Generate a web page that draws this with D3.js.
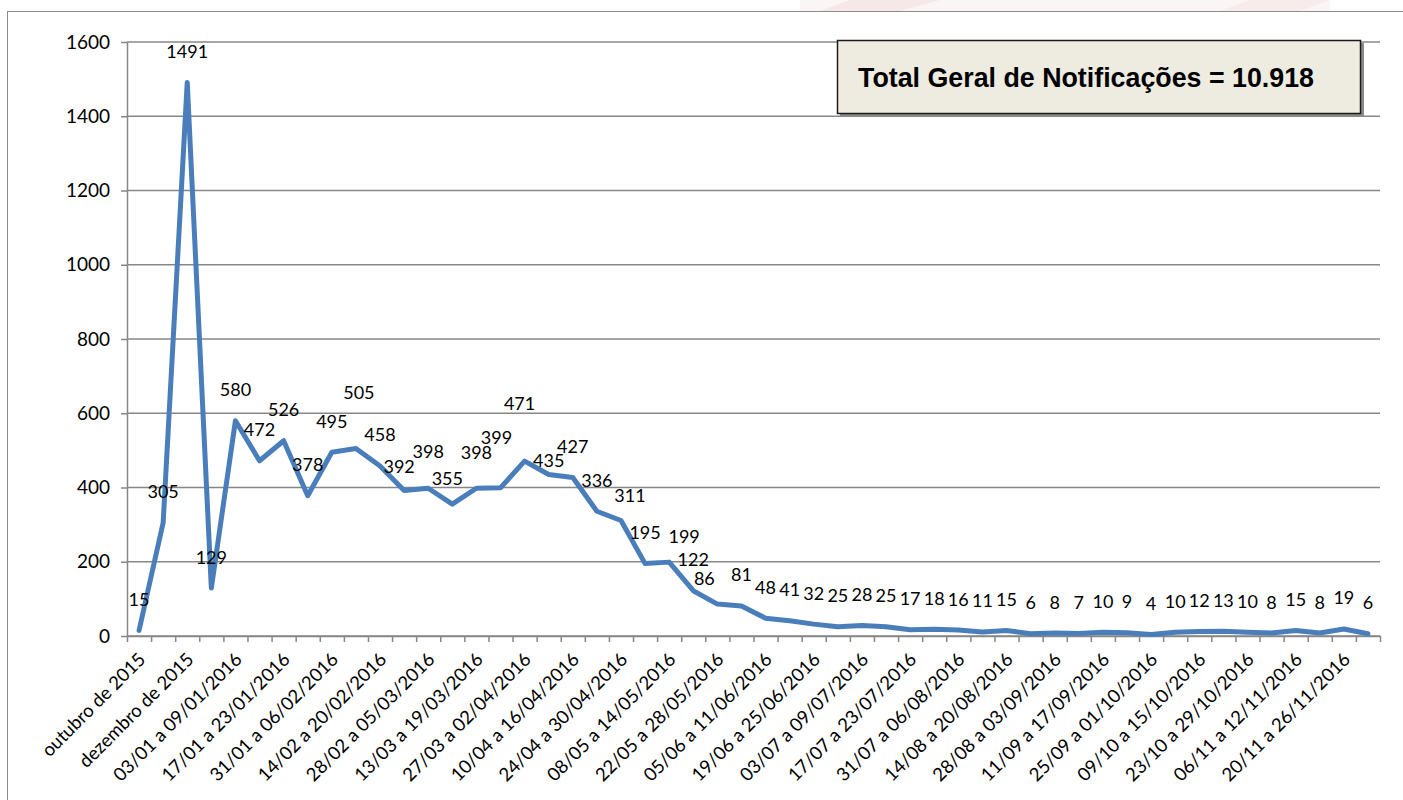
<!DOCTYPE html>
<html>
<head>
<meta charset="utf-8">
<script src="https://cdn.jsdelivr.net/npm/d3@7"></script>
<style>
  body { margin: 0; background: #fff; }
  svg { display: block; }
</style>
</head>
<body>
<div class="graphics"></div>
<script>
// semanas / meses
var categorias = [
  "outubro de 2015", "novembro de 2015", "dezembro de 2015", "01/01 a 02/01/2016",
  "03/01 a 09/01/2016", "10/01 a 16/01/2016", "17/01 a 23/01/2016", "24/01 a 30/01/2016",
  "31/01 a 06/02/2016", "07/02 a 13/02/2016", "14/02 a 20/02/2016", "21/02 a 27/02/2016",
  "28/02 a 05/03/2016", "06/03 a 12/03/2016", "13/03 a 19/03/2016", "20/03 a 26/03/2016",
  "27/03 a 02/04/2016", "03/04 a 09/04/2016", "10/04 a 16/04/2016", "17/04 a 23/04/2016",
  "24/04 a 30/04/2016", "01/05 a 07/05/2016", "08/05 a 14/05/2016", "15/05 a 21/05/2016",
  "22/05 a 28/05/2016", "29/05 a 04/06/2016", "05/06 a 11/06/2016", "12/06 a 18/06/2016",
  "19/06 a 25/06/2016", "26/06 a 02/07/2016", "03/07 a 09/07/2016", "10/07 a 16/07/2016",
  "17/07 a 23/07/2016", "24/07 a 30/07/2016", "31/07 a 06/08/2016", "07/08 a 13/08/2016",
  "14/08 a 20/08/2016", "21/08 a 27/08/2016", "28/08 a 03/09/2016", "04/09 a 10/09/2016",
  "11/09 a 17/09/2016", "18/09 a 24/09/2016", "25/09 a 01/10/2016", "02/10 a 08/10/2016",
  "09/10 a 15/10/2016", "16/10 a 22/10/2016", "23/10 a 29/10/2016", "30/10 a 05/11/2016",
  "06/11 a 12/11/2016", "13/11 a 19/11/2016", "20/11 a 26/11/2016", "27/11 a 03/12/2016"
];

var notificacoes = [
  15, 305, 1491, 129, 580, 472, 526, 378, 495, 505, 458, 392, 398,
  355, 398, 399, 471, 435, 427, 336, 311, 195, 199, 122, 86, 81,
  48, 41, 32, 25, 28, 25, 17, 18, 16, 11, 15, 6, 8, 7, 10, 9,
  4, 10, 12, 13, 10, 8, 15, 8, 19, 6
];

var yTicks = [0, 200, 400, 600, 800, 1000, 1200, 1400, 1600];
var titulo = "Total Geral de Notificações = 10.918";

// labels that were dragged by hand in the original sheet
var ajusteRotulo = {
  9: [3, -25], 11: [-5, 7], 12: [0, -6], 13: [-5, 5], 14: [0, -5],
  15: [-4, -19], 16: [-5, -27], 17: [0, 17], 20: [9, 6], 22: [15, 5], 24: [-13, 5]
};

function grafico() {
  var W = 1403, H = 800;
  var left = 127, right = 1380, top = 42, bottom = 636;

  var svg = d3.select(".graphics")
    .append("svg")
    .attr("width", W)
    .attr("height", H);

  // faint watermark at the top edge
  var wm = svg.append("g").attr("opacity", 0.5);
  wm.append("path").attr("d", "M800,0 L1330,0 L1330,11 L800,11 Z").attr("fill", "#f8eeee");
  wm.append("path").attr("d", "M820,11 L850,0 L940,0 L900,11 Z").attr("fill", "#eed2d2");
  wm.append("path").attr("d", "M1220,11 L1250,0 L1330,0 L1300,11 Z").attr("fill", "#f0d8d8");

  // outer frame
  svg.append("rect")
    .attr("x", 7.5).attr("y", 11.5)
    .attr("width", 1500).attr("height", 900)
    .attr("fill", "none")
    .attr("stroke", "#8c8c8c")
    .attr("stroke-width", 1);

  var x = d3.scaleBand()
    .domain(categorias)
    .range([left, right]);

  var xi = d3.scaleLinear()
    .domain([0, categorias.length])
    .range([left, right]);

  var y = d3.scaleLinear()
    .domain([0, 1600])
    .range([bottom, top]);

  // gridlines
  svg.append("g")
    .selectAll("line")
    .data(yTicks)
    .enter()
    .append("line")
      .attr("x1", left)
      .attr("x2", right)
      .attr("y1", function(d) { return y(d); })
      .attr("y2", function(d) { return y(d); })
      .attr("stroke", "#878787")
      .attr("stroke-width", 1.5);

  // Y axis
  var yAxis = svg.append("g")
    .attr("transform", "translate(" + left + ",0)")
    .call(d3.axisLeft(y).tickValues(yTicks).tickFormat(d3.format("d"))
      .tickSize(6).tickSizeOuter(0).tickPadding(11));
  yAxis.select(".domain").attr("stroke", "#878787").attr("stroke-width", 1.5);
  yAxis.selectAll(".tick line").attr("stroke", "#878787").attr("stroke-width", 1.5);
  yAxis.selectAll("text")
    .style("font-family", "Lato, 'Open Sans', sans-serif")
    .style("font-size", "19px")
    .attr("fill", "#000");

  // X axis: ticks between categories
  var xAxis = svg.append("g")
    .attr("transform", "translate(0," + bottom + ")")
    .call(d3.axisBottom(xi).tickValues(d3.range(categorias.length + 1))
      .tickSize(6).tickSizeOuter(0).tickFormat(""));
  xAxis.select(".domain").attr("stroke", "#878787").attr("stroke-width", 1.5);
  xAxis.selectAll(".tick line").attr("stroke", "#878787").attr("stroke-width", 1.5);

  // category labels, every other one
  svg.append("g")
    .selectAll("text")
    .data(categorias.filter(function(d, i) { return i % 2 === 0; }))
    .enter()
    .append("text")
      .attr("transform", function(d) {
        return "translate(" + (x(d) + x.bandwidth() / 2 + 3) + "," + (bottom + 20) + ")rotate(-45)";
      })
      .attr("text-anchor", "end")
      .attr("dy", "0.35em")
      .style("font-family", "Lato, 'Open Sans', sans-serif")
      .style("font-size", "18.5px")
      .attr("fill", "#000")
      .text(function(d) { return d; });

  // line
  var linha = d3.line()
    .x(function(d, i) { return x(categorias[i]) + x.bandwidth() / 2; })
    .y(function(d) { return y(d); });

  svg.append("path")
    .datum(notificacoes)
    .attr("d", linha)
    .attr("fill", "none")
    .attr("stroke", "#4a7ebb")
    .attr("stroke-width", 5)
    .attr("stroke-linejoin", "round")
    .attr("stroke-linecap", "round");

  // data labels
  svg.append("g")
    .selectAll("text")
    .data(notificacoes)
    .enter()
    .append("text")
      .attr("x", function(d, i) {
        var a = ajusteRotulo[i] ? ajusteRotulo[i][0] : 0;
        return x(categorias[i]) + x.bandwidth() / 2 + a;
      })
      .attr("y", function(d, i) {
        var a = ajusteRotulo[i] ? ajusteRotulo[i][1] : 0;
        return y(d) - 31 + a;
      })
      .attr("dy", "0.36em")
      .attr("text-anchor", "middle")
      .style("font-family", "Lato, 'Open Sans', sans-serif")
      .style("font-size", "18px")
      .attr("fill", "#000")
      .text(function(d) { return d; });

  // total box
  var caixa = svg.append("g");
  caixa.append("rect")
    .attr("x", 840).attr("y", 43)
    .attr("width", 524).attr("height", 74)
    .attr("fill", "#8a8a8a");
  caixa.append("rect")
    .attr("x", 837.5).attr("y", 40.5)
    .attr("width", 523).attr("height", 73)
    .attr("fill", "#eeebe0")
    .attr("stroke", "#1a1a1a")
    .attr("stroke-width", 1.5);
  caixa.append("text")
    .attr("x", 858)
    .attr("y", 78)
    .attr("dy", "0.35em")
    .style("font-family", "'Liberation Sans', Arial, sans-serif")
    .style("font-weight", "bold")
    .style("font-size", "26.8px")
    .attr("fill", "#000")
    .text(titulo);
}

grafico();
</script>
</body>
</html>
